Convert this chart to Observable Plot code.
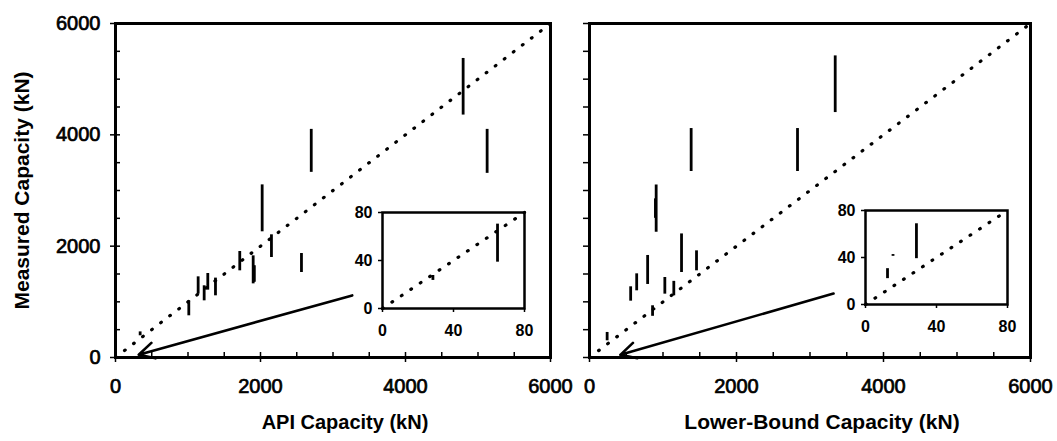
<!DOCTYPE html>
<html><head><meta charset="utf-8">
<script src="https://cdn.jsdelivr.net/npm/d3@7"></script>
<script src="https://cdn.jsdelivr.net/npm/@observablehq/plot@0.6"></script>
<style>
body{margin:0;background:#fff;}
#wrap{position:relative;width:1057px;height:441px;overflow:hidden;background:#fff;}
#wrap svg{position:absolute;overflow:visible;}
</style></head><body><div id="wrap"></div>
<script>
// ---- tick values ----
const majorTicks = [0, 2000, 4000, 6000];
const minorTicks = [0, 500, 1000, 1500, 2000, 2500, 3000, 3500, 4000, 4500, 5000, 5500, 6000];
const insetTicks = [0, 40, 80];
const oneToOne = [0, 6000];
const insetOneToOne = [0, 80];

// ---- titles ----
const yTitle = "Measured Capacity (kN)";
const apiTitle = "API Capacity (kN)";
const lbTitle = "Lower-Bound Capacity (kN)";

// ---- API panel: measured capacity ranges (kN) ----
const apiX    = [4795, 5126, 2700, 2023, 2151, 2565, 1899, 1915, 1714, 1140, 1273, 1223, 1379, 1011, 340];
const apiLow  = [4355, 3308, 3326, 2258, 1796, 1527, 1323, 1350, 1557, 1138, 1210, 1018, 1108, 749, 390];
const apiHigh = [5372, 4098, 4098, 3101, 2204, 1868, 1826, 1650, 1904, 1449, 1509, 1288, 1426, 1018, 460];
const apiArrow = [3265, 1115, 320, 50]; // from (x1,y1) to (x2,y2)

// ---- Lower-bound panel ----
const lbX    = [3343, 2830, 1383, 907, 897, 1252, 1456, 791, 642, 560, 1025, 1147, 858, 240];
const lbLow  = [4400, 3341, 3341, 2250, 2500, 1527, 1557, 1312, 1198, 1012, 1138, 1108, 740, 300];
const lbHigh = [5418, 4113, 4113, 3099, 2850, 2220, 1916, 1833, 1503, 1270, 1437, 1368, 929, 450];
const lbArrow = [3320, 1150, 420, 48];

// ---- insets (0-80 kN) ----
const apiInsetX    = [64.8, 28.4];
const apiInsetLow  = [38.6, 23.4];
const apiInsetHigh = [70.3, 27.5];
const lbInsetX    = [28.7, 12.4, 15.5];
const lbInsetLow  = [39.0, 22.0, 41.0];
const lbInsetHigh = [68.7, 30.5, 42.5];

const FONT = "'Liberation Sans', Arial, sans-serif";
const wrap = document.getElementById("wrap");
const fmt = d3.format("d");
const dotted = {stroke: "black", strokeWidth: 3.2, strokeDasharray: "0.8,10.6", strokeLinecap: "round"};

function place(svg, left, top) {
  svg.style.left = left + "px";
  svg.style.top = top + "px";
  wrap.appendChild(svg);
}

function panel(o) {
  const fw = o.width - o.mL - o.mR;
  const fh = o.height - o.mT - o.mB;
  const bars = o.xs.map((x, i) => ({x, lo: o.lo[i], hi: o.hi[i]}));
  const arrow = [{x1: o.arrow[0], y1: o.arrow[1], x2: o.arrow[2], y2: o.arrow[3]}];
  const marks = [
    Plot.line(oneToOne.map(v => ({v})), {x: "v", y: "v", ...dotted}),
    Plot.ruleX(bars, {x: "x", y1: "lo", y2: "hi", stroke: "black", strokeWidth: 2.8}),
    Plot.arrow(arrow, {x1: "x1", y1: "y1", x2: "x2", y2: "y2", stroke: "black", strokeWidth: 2.6, headLength: 10, headAngle: 55}),
    Plot.tickX(minorTicks, {x: d => d, insetTop: fh - 5, stroke: "black", strokeWidth: 1.5}),
    Plot.axisX({ticks: majorTicks, tickFormat: fmt, tickSize: 5, tickPadding: 16, fontSize: 20, strokeWidth: 1.5, label: null, textStroke: "black", textStrokeWidth: 0.7}),
    Plot.text([o.xTitle], {frameAnchor: "bottom", dy: 71, dx: o.titleDx, fontSize: o.titleSize, fontWeight: "bold", fill: "black"})
  ];
  if (o.yLabels) {
    marks.push(Plot.axisY({ticks: majorTicks, tickFormat: fmt, tickSize: 5, tickPadding: 10, fontSize: 20, strokeWidth: 1.5, label: null, textStroke: "black", textStrokeWidth: 0.7}));
    marks.push(Plot.tickY(minorTicks, {y: d => d, insetRight: fw - 5, stroke: "black", strokeWidth: 1.5}));
    marks.push(Plot.text([yTitle], {frameAnchor: "left", textAnchor: "middle", dx: -93, rotate: -90, fontSize: 21, fontWeight: "bold", fill: "black"}));
  } else {
    marks.push(Plot.axisY({ticks: minorTicks, tickSize: 6, text: null, strokeWidth: 1.5, label: null}));
  }
  marks.push(Plot.frame({stroke: "black", strokeWidth: 3}));
  return Plot.plot({
    width: o.width, height: o.height,
    marginLeft: o.mL, marginRight: o.mR, marginTop: o.mT, marginBottom: o.mB,
    x: {domain: [0, 6000]}, y: {domain: [0, 6000]},
    style: {background: "transparent", overflow: "visible", fontFamily: FONT, color: "black"},
    marks
  });
}

function inset(o) {
  const bars = o.xs.map((x, i) => ({x, lo: o.lo[i], hi: o.hi[i]}));
  return Plot.plot({
    width: o.width, height: o.height,
    marginLeft: 35, marginRight: 10, marginTop: 10, marginBottom: o.height - 10 - o.fh,
    x: {domain: [0, 80]}, y: {domain: [0, 80]},
    style: {background: "transparent", overflow: "visible", fontFamily: FONT, color: "black"},
    marks: [
      Plot.line(insetOneToOne.map(v => ({v})), {x: "v", y: "v", ...dotted}),
      Plot.ruleX(bars, {x: "x", y1: "lo", y2: "hi", stroke: "black", strokeWidth: 2.8}),
      Plot.axisX({ticks: insetTicks, tickSize: 4, tickPadding: 12, fontSize: 16, fontWeight: "bold", strokeWidth: 1.5, label: null}),
      Plot.axisY({ticks: insetTicks, tickSize: 4, tickPadding: 6, fontSize: 16, fontWeight: "bold", strokeWidth: 1.5, label: null}),
      Plot.frame({stroke: "black", strokeWidth: 2.5})
    ]
  });
}

place(panel({xs: apiX, lo: apiLow, hi: apiHigh, arrow: apiArrow, xTitle: apiTitle, titleDx: 12, titleSize: 20,
  width: 562, height: 441, mL: 115, mR: 12, mT: 23, mB: 84, yLabels: true}), 0, 0);
place(panel({xs: lbX, lo: lbLow, hi: lbHigh, arrow: lbArrow, xTitle: lbTitle, titleDx: 12, titleSize: 21,
  width: 497, height: 441, mL: 29, mR: 27, mT: 23, mB: 84, yLabels: false}), 560, 0);
place(inset({xs: apiInsetX, lo: apiInsetLow, hi: apiInsetHigh, width: 187, height: 141, fh: 96}), 347, 202);
place(inset({xs: lbInsetX, lo: lbInsetLow, hi: lbInsetHigh, width: 187, height: 139, fh: 94}), 830, 200);
</script></body></html>
